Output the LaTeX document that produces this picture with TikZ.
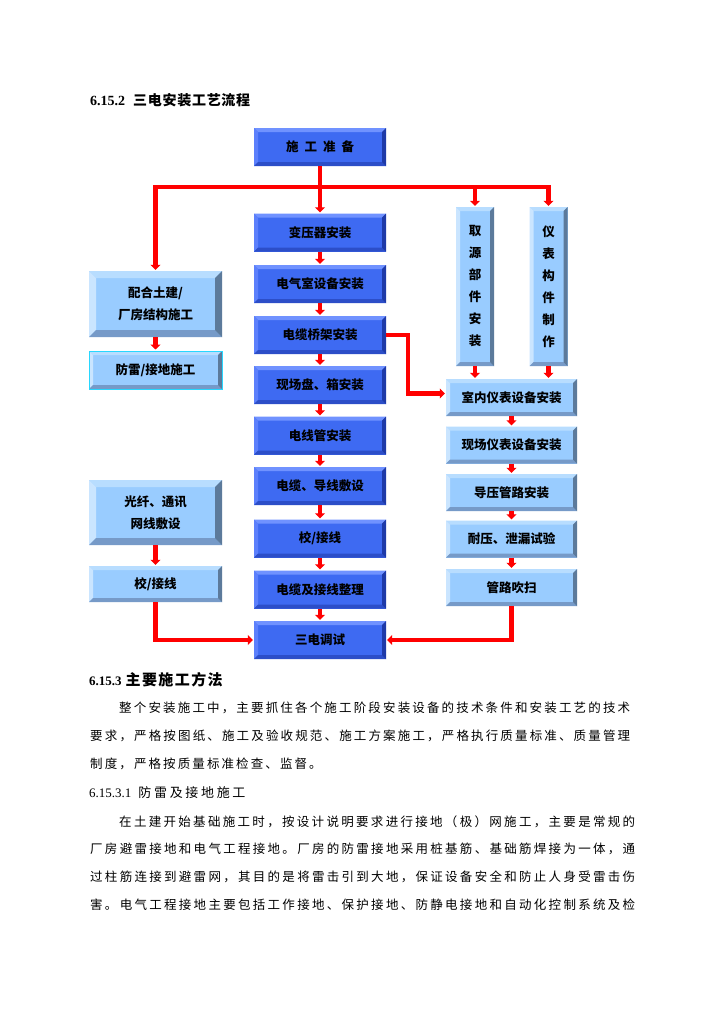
\documentclass[tikz,border=0pt]{standalone}
\usepackage{fontspec}
\setmainfont{Liberation Serif}
\newfontfamily\cjk{Noto Sans CJK SC}
\usetikzlibrary{arrows.meta}

% stretchable glue between CJK characters
\XeTeXinterchartokenstate=1
\newcount\cjkc
\cjkc="4E00
\loop \XeTeXcharclass\cjkc=1 \advance\cjkc by 1 \ifnum\cjkc<"9FA6 \repeat
\XeTeXcharclass"3001=1 \XeTeXcharclass"3002=1 \XeTeXcharclass"FF0C=1
\XeTeXcharclass"FF08=1 \XeTeXcharclass"FF09=1
\XeTeXinterchartoks 1 1 = {\hskip 0pt plus 1pt}

\definecolor{flowred}{RGB}{255,0,0}
\definecolor{bluefc}{RGB}{62,106,242}
\definecolor{bluetop}{RGB}{112,146,255}
\definecolor{blueleft}{RGB}{92,128,252}
\definecolor{bluebot}{RGB}{44,78,200}
\definecolor{blueright}{RGB}{30,58,168}
\definecolor{lightfc}{RGB}{153,204,255}
\definecolor{lighttop}{RGB}{184,221,255}
\definecolor{lightleft}{RGB}{202,229,255}
\definecolor{lightbot}{RGB}{118,154,200}
\definecolor{lightright}{RGB}{92,122,155}
\definecolor{edgecyan}{RGB}{40,215,255}

\newcommand\chartfont{\cjk\bfseries\fontsize{12.5pt}{22pt}\selectfont}
\newcommand\bodyfont{\cjk\fontsize{12.5pt}{15pt}\selectfont}

\tikzset{
  bevw/.store in=\bevw, bevw=4pt,
  bevel/.style n args={4}{path picture={
    \fill[#1] (path picture bounding box.north west) -- (path picture bounding box.north east)
      -- ([shift={(-\bevw,-\bevw)}]path picture bounding box.north east)
      -- ([shift={(\bevw,-\bevw)}]path picture bounding box.north west) -- cycle;
    \fill[#2] (path picture bounding box.north west) -- (path picture bounding box.south west)
      -- ([shift={(\bevw,\bevw)}]path picture bounding box.south west)
      -- ([shift={(\bevw,-\bevw)}]path picture bounding box.north west) -- cycle;
    \fill[#3] (path picture bounding box.south west) -- (path picture bounding box.south east)
      -- ([shift={(-\bevw,\bevw)}]path picture bounding box.south east)
      -- ([shift={(\bevw,\bevw)}]path picture bounding box.south west) -- cycle;
    \fill[#4] (path picture bounding box.north east) -- (path picture bounding box.south east)
      -- ([shift={(-\bevw,\bevw)}]path picture bounding box.south east)
      -- ([shift={(-\bevw,-\bevw)}]path picture bounding box.north east) -- cycle;
  }},
  bluebox/.style={fill=bluefc, bevel={bluetop}{blueleft}{bluebot}{blueright},
    minimum width=132pt, minimum height=38pt, inner sep=0pt, font=\chartfont},
  lightbox/.style={fill=lightfc, bevel={lighttop}{lightleft}{lightbot}{lightright},
    minimum width=133pt, minimum height=38pt, inner sep=0pt, align=center, font=\chartfont},
  flow/.style={draw=flowred, line width=4.5pt, shorten >=1pt,
    -{Triangle[width=10pt,length=5pt]}},
  head/.style={anchor=west, inner sep=0pt},
  bodyline/.style={anchor=west, inner sep=0pt, font=\bodyfont},
}

\begin{document}
\begin{tikzpicture}[x=1pt,y=-1pt]
\fill[white] (0,0) rectangle (726,1026);
\useasboundingbox (0,0) rectangle (726,1026);

\node[head, font=\fontsize{14pt}{16pt}\selectfont\bfseries] (title) at (90,100)
  {6.15.2\hspace{8pt}{\cjk\makebox[117pt][s]{三电安装工艺流程}}};

\node[bluebox] (prep) at (320,147) {施\hspace{6pt}工\hspace{6pt}准\hspace{6pt}备};
\node[bluebox] (trafo) at (320,232.5) {变压器安装};
\node[bluebox] (room) at (320,284) {电气室设备安装};
\node[bluebox] (tray) at (320,335) {电缆桥架安装};
\node[bluebox] (panel) at (320,385) {现场盘、箱安装};
\node[bluebox] (conduit) at (320,435.5) {电线管安装};
\node[bluebox] (cable) at (320,486) {电缆、导线敷设};
\node[bluebox] (wire) at (320,538.5) {校/接线};
\node[bluebox] (tidy) at (320,589.5) {电缆及接线整理};
\node[bluebox] (test) at (320,640) {三电调试};

\node[lightbox, minimum height=66pt, bevw=7pt] (civil) at (155.5,304) {配合土建/\\厂房结构施工};
\node[lightbox, draw=edgecyan, line width=1pt] (earth) at (155.5,370) {防雷/接地施工};
\node[lightbox, minimum height=65pt, bevw=7pt] (fibre) at (155.5,512.5) {光纤、通讯\\网线敷设};
\node[lightbox, minimum height=36pt] (lwire) at (155.5,584) {校/接线};

\node[lightbox, minimum width=38pt, minimum height=159pt] (source) at (475,286.5) {取\\源\\部\\件\\安\\装};
\node[lightbox, minimum width=38pt, minimum height=159pt] (frame) at (548.5,286.5) {仪\\表\\构\\件\\制\\作};
\node[lightbox, minimum width=131pt, minimum height=37pt] (indoor) at (511.5,397.5) {室内仪表设备安装};
\node[lightbox, minimum width=131pt, minimum height=37pt] (field) at (511.5,445) {现场仪表设备安装};
\node[lightbox, minimum width=131pt, minimum height=37pt] (impulse) at (511.5,492.5) {导压管路安装};
\node[lightbox, minimum width=131pt, minimum height=37pt] (press) at (511.5,539) {耐压、泄漏试验};
\node[lightbox, minimum width=131pt, minimum height=37pt] (purge) at (511.5,587.5) {管路吹扫};

\coordinate (bus) at (320,187);
\draw[flow] (prep) -- (trafo);
\draw[flow] (bus) -| (civil);
\draw[flow] (bus) -| (source);
\draw[flow] (bus) -| (frame);
\draw[flow] (trafo) -- (room);
\draw[flow] (room) -- (tray);
\draw[flow] (tray) -- (panel);
\draw[flow] (panel) -- (conduit);
\draw[flow] (conduit) -- (cable);
\draw[flow] (cable) -- (wire);
\draw[flow] (wire) -- (tidy);
\draw[flow] (tidy) -- (test);
\draw[flow] (civil) -- (earth);
\draw[flow] (fibre) -- (lwire);
\draw[flow] (tray.east) -- ++(22,0) |- ([yshift=4pt]indoor.west);
\draw[flow] (source) -- (source |- indoor.north);
\draw[flow] (frame) -- (frame |- indoor.north);
\draw[flow] (indoor) -- (field);
\draw[flow] (field) -- (impulse);
\draw[flow] (impulse) -- (press);
\draw[flow] (press) -- (purge);
\draw[flow] (lwire) |- (test);
\draw[flow] (purge) |- (test);

\node[head, font=\fontsize{13pt}{15pt}\selectfont\bfseries] (method) at (89,680)
  {6.15.3\hspace{4pt}{\cjk\fontsize{15pt}{17pt}\selectfont\makebox[97pt][s]{主要施工方法}}};
\node[bodyline] (m1) at (119,708) {\makebox[511pt][s]{整个安装施工中，主要抓住各个施工阶段安装设备的技术条件和安装工艺的技术}};
\node[bodyline] (m2) at (90,736) {\makebox[540pt][s]{要求，严格按图纸、施工及验收规范、施工方案施工，严格执行质量标准、质量管理}};
\node[bodyline] (m3) at (90,764) {\makebox[231.5pt][s]{制度，严格按质量标准检查、监督。}};
\node[head, font=\fontsize{13pt}{15pt}\selectfont] (ground) at (89,793)
  {6.15.3.1\hspace{7pt}{\cjk\makebox[107pt][s]{防雷及接地施工}}};
\node[bodyline] (g1) at (119,822) {\makebox[516pt][s]{在土建开始基础施工时，按设计说明要求进行接地（极）网施工，主要是常规的}};
\node[bodyline] (g2) at (90,849) {\makebox[545pt][s]{厂房避雷接地和电气工程接地。厂房的防雷接地采用桩基筋、基础筋焊接为一体，通}};
\node[bodyline] (g3) at (90,877) {\makebox[545pt][s]{过柱筋连接到避雷网，其目的是将雷击引到大地，保证设备安全和防止人身受雷击伤}};
\node[bodyline] (g4) at (90,905) {\makebox[545pt][s]{害。电气工程接地主要包括工作接地、保护接地、防静电接地和自动化控制系统及检}};
\end{tikzpicture}
\end{document}
